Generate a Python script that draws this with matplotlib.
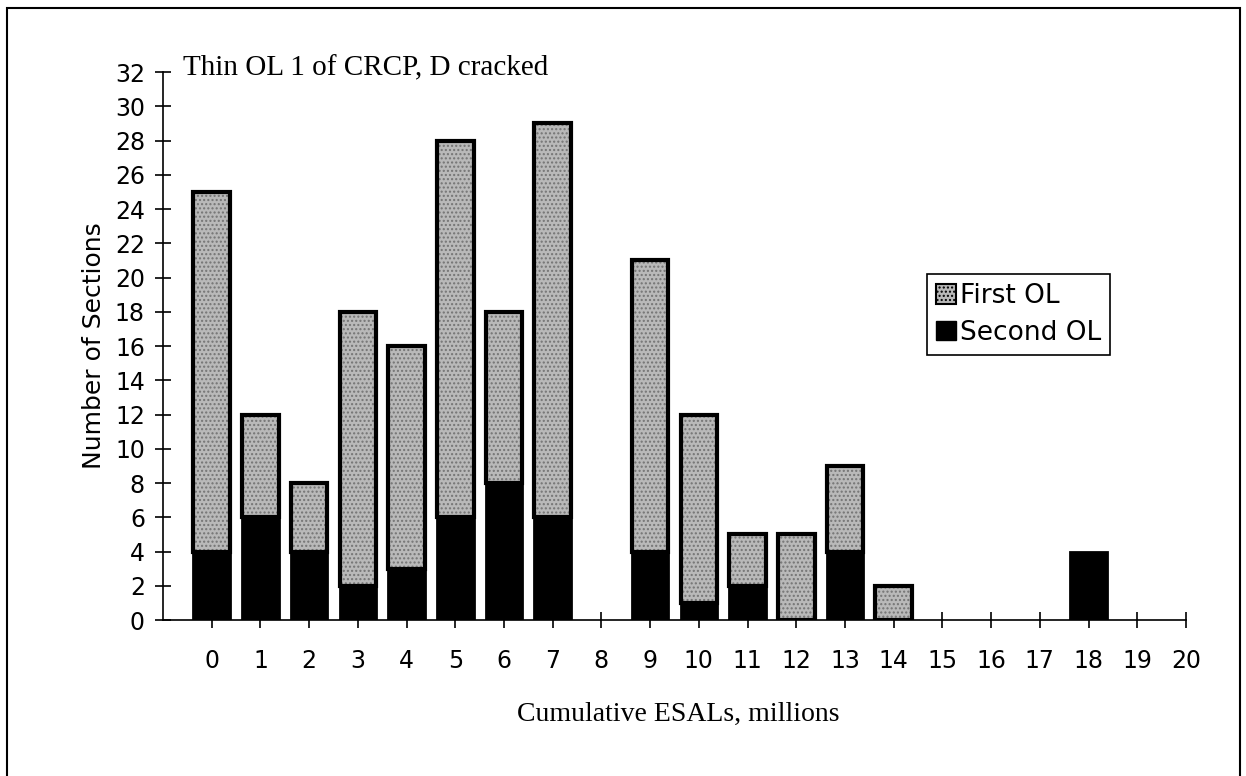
import numpy as np
import matplotlib.pyplot as plt
from matplotlib.patches import Patch, Rectangle

# values
esals = list(range(21))
second_ol = [4, 6, 4, 2, 3, 6, 8, 6, 0, 4, 1, 2, 0, 4, 0, 0, 0, 0, 4, 0, 0]
first_ol = [21, 6, 4, 16, 13, 22, 10, 23, 0, 17, 11, 3, 5, 5, 2, 0, 0, 0, 0, 0, 0]
y_ticks = list(range(0, 33, 2))

GRAY = '#b9b9b9'
SANS = 'DejaVu Sans'
SERIF = 'Liberation Serif'
plt.rcParams['hatch.linewidth'] = 1.0

fig = plt.figure(figsize=(12.46, 7.76), dpi=100)
ax = fig.add_axes([0.1308, 0.201, 0.821, 0.7062])

x = np.array(esals)
sec = np.array(second_ol)
fst = np.array(first_ol)
w = 0.75

# black bottom segment
m = sec > 0
ax.bar(x[m], sec[m], width=w, color='black', edgecolor='black', linewidth=2, zorder=2)

# stippled gray top segment (fill, then outline)
m = fst > 0
ax.bar(x[m], fst[m], bottom=sec[m], width=w, color=GRAY, hatch='....',
       edgecolor='#747474', linewidth=0, zorder=2)
ax.bar(x[m], fst[m], bottom=sec[m], width=w, fill=False,
       edgecolor='black', linewidth=3, zorder=3)

ax.set_xlim(-1, 20)
ax.set_ylim(0, 32)
ax.set_xticks(esals)
ax.set_yticks(y_ticks)
ax.tick_params(axis='both', direction='inout', length=12, width=1.2, labelsize=17)
ax.tick_params(axis='x', pad=15)
ax.tick_params(axis='y', pad=7)
for lab in ax.get_xticklabels() + ax.get_yticklabels():
    lab.set_family(SANS)

for s in ['top', 'right']:
    ax.spines[s].set_visible(False)
for s in ['left', 'bottom']:
    ax.spines[s].set_linewidth(1.2)

ax.set_ylabel('Number of Sections', family=SANS, fontsize=18, labelpad=6)

fig.text(183 / 1246, 1 - 75 / 776, 'Thin OL 1 of CRCP, D cracked',
         family=SERIF, fontsize=21, va='baseline', ha='left')
fig.text(678 / 1246, 1 - 721 / 776, 'Cumulative ESALs, millions',
         family=SERIF, fontsize=20, va='baseline', ha='center')

handles = [Patch(facecolor=GRAY, edgecolor='black', hatch='....', linewidth=1.5, label='First OL'),
           Patch(facecolor='black', edgecolor='black', label='Second OL')]
leg = ax.legend(handles=handles, loc='upper left',
                bbox_to_anchor=(927 / 1246, 1 - 274 / 776), bbox_transform=fig.transFigure,
                frameon=True, fancybox=False, edgecolor='black', framealpha=1,
                prop={'family': SANS, 'size': 19}, handlelength=0.75, handleheight=0.75,
                handletextpad=0.15, borderaxespad=0, labelspacing=0.4, borderpad=0.35)
leg.get_frame().set_linewidth(1.2)

# outer frame of the scanned figure
fig.patches.append(Rectangle((7 / 1246, -0.05), (1240 - 7) / 1246, (776 - 8) / 776 + 0.05,
                             transform=fig.transFigure, fill=False, linewidth=1.5,
                             edgecolor='black'))

fig.savefig('out.png', dpi=100)
